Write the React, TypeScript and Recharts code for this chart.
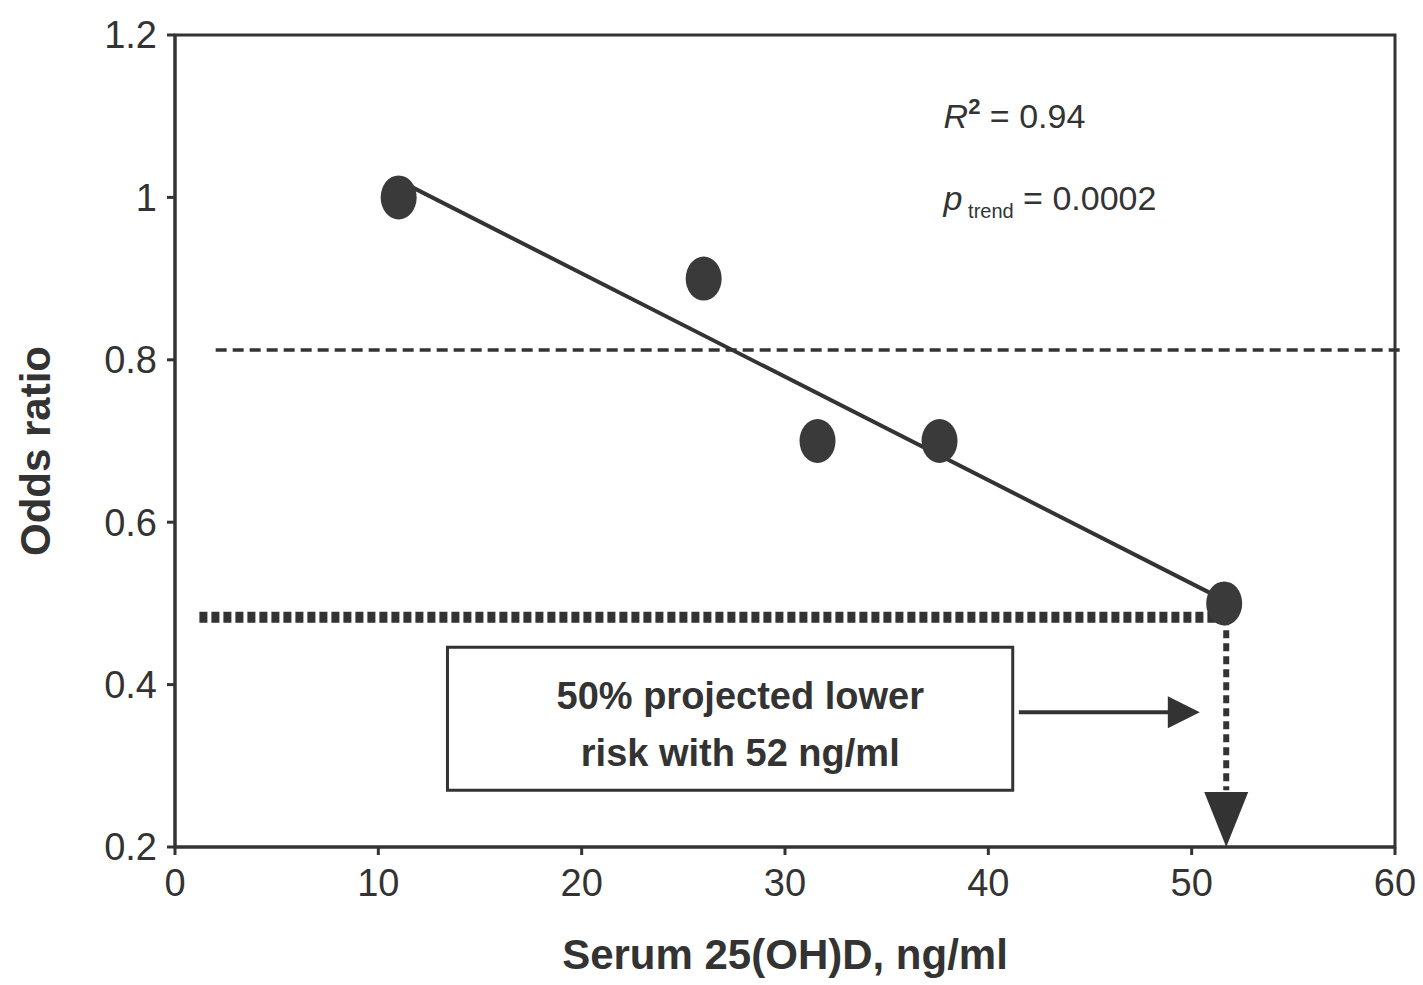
import {
  ReferenceArea,
  ReferenceDot,
  ReferenceLine,
  Scatter,
  ScatterChart,
  XAxis,
  YAxis,
} from 'recharts'

const serumLevels = [11, 26, 31.6, 37.6, 51.6]
const oddsRatios = [1.0, 0.9, 0.7, 0.7, 0.5]
const xTicks = [0, 10, 20, 30, 40, 50, 60]
const yTicks = [0.2, 0.4, 0.6, 0.8, 1.0, 1.2]
const trendSegment = [
  { x: 11, y: 1.021 },
  { x: 51.6, y: 0.504 },
]
const referenceOdds = 0.812
const projectedOdds = 0.483
const projectedLevel = 51.7

const ink = '#333'
const font = '"Liberation Sans", Arial, sans-serif'

const points = serumLevels.map((x, i) => ({ x, y: oddsRatios[i] }))

function renderPoint(props: { cx?: number; cy?: number }) {
  return <ellipse cx={props.cx} cy={props.cy} rx={18} ry={22} fill="#3a3a3a" />
}

function textShape(lines: string[], anchor: 'start' | 'middle', size: number) {
  return (props: { cx?: number; cy?: number }) => (
    <text
      x={props.cx}
      y={props.cy}
      textAnchor={anchor}
      fontFamily={font}
      fontWeight="bold"
      fontSize={size}
      fill={ink}
    >
      {lines.map((line, i) => (
        <tspan key={i} x={props.cx} dy={i === 0 ? 0 : size * 1.5}>
          {line}
        </tspan>
      ))}
    </text>
  )
}

function downArrowHead(props: { cx?: number; cy?: number }) {
  const cx = props.cx ?? 0
  const cy = props.cy ?? 0
  return <polygon points={`${cx - 22},${cy - 55} ${cx + 22},${cy - 55} ${cx},${cy}`} fill={ink} />
}

function rightArrowHead(props: { cx?: number; cy?: number }) {
  const cx = props.cx ?? 0
  const cy = props.cy ?? 0
  return <polygon points={`${cx - 32},${cy - 16} ${cx - 32},${cy + 16} ${cx},${cy}`} fill={ink} />
}

export default function App() {
  return (
    <div style={{ width: 1415, height: 977, background: '#fff' }}>
      <ScatterChart
        width={1415}
        height={977}
        margin={{ top: 27, right: 28, bottom: 68, left: 67 }}
      >
        <XAxis
          type="number"
          dataKey="x"
          domain={[0, 60]}
          ticks={xTicks}
          tick={{ fontSize: 38, fill: ink, fontFamily: font }}
          stroke={ink}
          strokeWidth={3}
          tickSize={8}
          tickMargin={14}
          height={70}
          label={{
            value: 'Serum 25(OH)D, ng/ml',
            position: 'insideBottom',
            offset: -52,
            fontSize: 42,
            fontWeight: 'bold',
            fill: ink,
            fontFamily: font,
          }}
        />
        <YAxis
          type="number"
          dataKey="y"
          domain={[0.2, 1.2]}
          ticks={yTicks}
          tickFormatter={(v) => String(Math.round(v * 10) / 10)}
          tick={{ fontSize: 38, fill: ink, fontFamily: font }}
          stroke={ink}
          strokeWidth={3}
          tickSize={8}
          tickMargin={10}
          width={100}
          label={{
            value: 'Odds ratio',
            angle: -90,
            position: 'insideLeft',
            offset: -40,
            dy: 10,
            fontSize: 42,
            fontWeight: 'bold',
            fill: ink,
            fontFamily: font,
            style: { textAnchor: 'middle' },
          }}
        />
        <ReferenceArea x1={0} x2={60} y1={0.2} y2={1.2} fill="none" stroke={ink} strokeWidth={3} />
        <ReferenceLine
          segment={[{ x: 2, y: referenceOdds }, { x: 60.5, y: referenceOdds }]}
          stroke={ink}
          strokeWidth={3.5}
          strokeDasharray="11 6"
          ifOverflow="visible"
        />
        <ReferenceLine
          segment={[{ x: 1.2, y: projectedOdds }, { x: projectedLevel, y: projectedOdds }]}
          stroke={ink}
          strokeWidth={11}
          strokeDasharray="8 4"
        />
        <ReferenceLine
          segment={[{ x: projectedLevel, y: projectedOdds }, { x: projectedLevel, y: 0.27 }]}
          stroke={ink}
          strokeWidth={6}
          strokeDasharray="8 5"
        />
        <ReferenceDot x={projectedLevel} y={0.2} r={0} shape={downArrowHead} ifOverflow="visible" />
        <ReferenceLine segment={trendSegment} stroke={ink} strokeWidth={4} />
        <ReferenceArea x1={13.4} x2={41.2} y1={0.27} y2={0.446} fill="#fff" fillOpacity={1} stroke={ink} strokeWidth={3} />
        <ReferenceDot
          x={27.8}
          y={0.37}
          r={0}
          shape={textShape(['50% projected lower', 'risk with 52 ng/ml'], 'middle', 38)}
        />
        <ReferenceLine segment={[{ x: 41.5, y: 0.366 }, { x: 49.5, y: 0.366 }]} stroke={ink} strokeWidth={4} />
        <ReferenceDot x={50.4} y={0.366} r={0} shape={rightArrowHead} />
        <ReferenceDot
          x={37.8}
          y={1.085}
          r={0}
          shape={(p: { cx?: number; cy?: number }) => (
            <text x={p.cx} y={p.cy} fontFamily={font} fontSize={34} fill={ink}>
              <tspan fontStyle="italic">R</tspan>
              <tspan fontSize={22} dy={-14} fontWeight="bold">2</tspan>
              <tspan dy={14}> = 0.94</tspan>
            </text>
          )}
        />
        <ReferenceDot
          x={37.8}
          y={0.985}
          r={0}
          shape={(p: { cx?: number; cy?: number }) => (
            <text x={p.cx} y={p.cy} fontFamily={font} fontSize={34} fill={ink}>
              <tspan fontStyle="italic">p</tspan>
              <tspan fontSize={20} dy={8}> trend</tspan>
              <tspan dy={-8}> = 0.0002</tspan>
            </text>
          )}
        />
        <Scatter data={points} shape={renderPoint} isAnimationActive={false} />
      </ScatterChart>
    </div>
  )
}
